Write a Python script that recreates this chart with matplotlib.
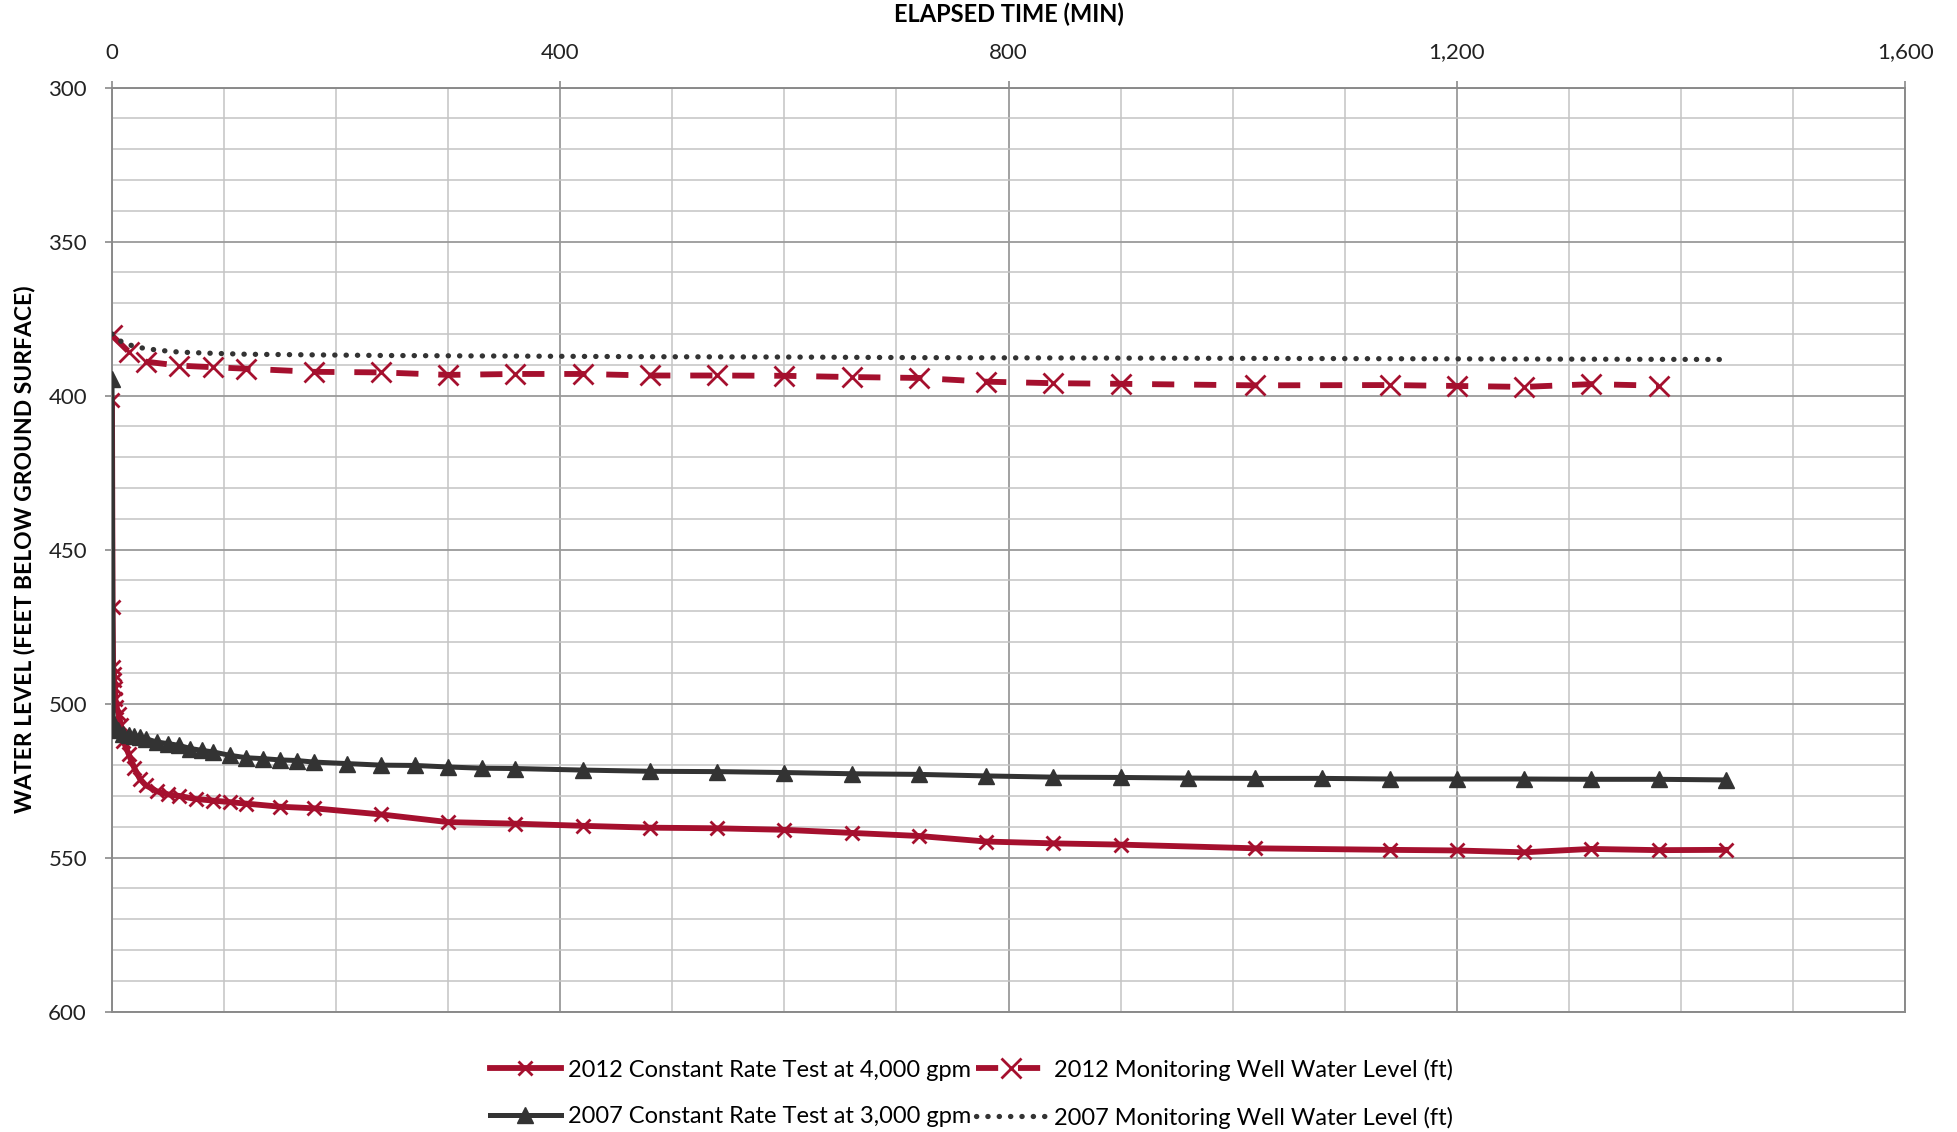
import matplotlib
matplotlib.use('Agg')
import matplotlib.pyplot as plt
from matplotlib.ticker import MultipleLocator, StrMethodFormatter

plt.rcParams['font.family'] = ['Lato', 'DejaVu Sans']

# 2012 constant rate test at 4,000 gpm
t_2012_test = [0, 0.5, 1, 1.5, 2, 2.5, 3, 4, 6, 8, 10, 15, 20, 25, 30, 40, 50, 60, 75, 90,
               105, 120, 150, 180, 240, 300, 360, 420, 480, 540, 600, 660, 720, 780, 840,
               900, 1020, 1140, 1200, 1260, 1320, 1380, 1440]
wl_2012_test = [401.5, 468.5, 488, 490.5, 492.5, 495, 498.5, 501, 503.5, 507, 512, 516.5, 521,
                524.5, 526.5, 528.5, 529.5, 530, 531, 531.5, 532, 532.5, 533.5, 534, 536, 538.5,
                539, 539.7, 540.3, 540.5, 541, 542, 543, 544.8, 545.4, 545.8, 547, 547.5, 547.7,
                548.3, 547.2, 547.6, 547.5]

# 2012 monitoring well water level
t_2012_mw = [0, 15, 30, 60, 90, 120, 180, 240, 300, 360, 420, 480, 540, 600, 660, 720, 780,
             840, 900, 1020, 1140, 1200, 1260, 1320, 1380]
wl_2012_mw = [380.5, 385.8, 389, 390.3, 390.8, 391.3, 392.3, 392.5, 393.3, 393, 393, 393.5,
              393.5, 393.6, 394, 394.3, 395.5, 396, 396.2, 396.7, 396.6, 396.9, 397.2, 396.3,
              396.8]

# 2007 constant rate test at 3,000 gpm
t_2007_test = [0, 1, 2, 5, 10, 15, 20, 25, 30, 40, 50, 60, 70, 80, 90, 105, 120, 135, 150,
               165, 180, 210, 240, 270, 300, 330, 360, 420, 480, 540, 600, 660, 720, 780, 840,
               900, 960, 1020, 1080, 1140, 1200, 1260, 1320, 1380, 1440]
wl_2007_test = [394.5, 506, 507.5, 508.7, 509.8, 510.3, 510.5, 510.8, 511.4, 512.5, 513, 513.6,
                514.6, 515.2, 515.7, 516.8, 517.6, 517.9, 518.3, 518.5, 519, 519.5, 520, 520.1,
                520.6, 521, 521.1, 521.6, 522, 522.1, 522.4, 522.8, 523, 523.5, 523.9, 524,
                524.2, 524.3, 524.3, 524.5, 524.5, 524.5, 524.6, 524.6, 524.8]

# 2007 monitoring well water level
t_2007_mw = [0, 10, 20, 30, 40, 50, 60, 90, 120, 180, 240, 300, 360, 480, 600, 720, 840, 960,
             1080, 1200, 1320, 1440]
wl_2007_mw = [380, 383, 384, 384.8, 385.2, 385.6, 385.9, 386.3, 386.6, 386.8, 387, 387.1,
              387.2, 387.4, 387.5, 387.7, 387.8, 387.9, 388, 388.1, 388.2, 388.3]

red = '#A5102E'
dark = '#333333'

fig = plt.figure(figsize=(19.58, 11.32), dpi=100)
ax = fig.add_axes([0.0572, 0.1064, 0.9158, 0.8163])

l1, = ax.plot(t_2012_test, wl_2012_test, color=red, lw=4.2, marker='x', ms=10, mew=2,
              label='2012 Constant Rate Test at 4,000 gpm', zorder=3)
l2, = ax.plot(t_2012_mw, wl_2012_mw, color=red, lw=4.2, ls=(0, (3.8, 3.4)), marker='x',
              ms=15, mew=2, label='2012 Monitoring Well Water Level (ft)', zorder=3)
l3, = ax.plot(t_2007_test, wl_2007_test, color=dark, lw=3.6, marker='^', ms=11,
              label='2007 Constant Rate Test at 3,000 gpm', zorder=4)
l4, = ax.plot(t_2007_mw, wl_2007_mw, color=dark, lw=3.8, ls=(0, (0.05, 2.1)),
              dash_capstyle='round', label='2007 Monitoring Well Water Level (ft)', zorder=4)

ax.set_xlim(0, 1600)
ax.set_ylim(600, 300)
ax.xaxis.set_major_locator(MultipleLocator(400))
ax.xaxis.set_minor_locator(MultipleLocator(100))
ax.yaxis.set_major_locator(MultipleLocator(50))
ax.yaxis.set_minor_locator(MultipleLocator(10))
ax.xaxis.set_major_formatter(StrMethodFormatter('{x:,.0f}'))

ax.grid(which='major', color='#9a9a9a', lw=1.3, zorder=0)
ax.grid(which='minor', color='#c4c4c4', lw=1.1, zorder=0)
ax.set_axisbelow(True)
for s in ax.spines.values():
    s.set_color('#8a8a8a')
    s.set_linewidth(1.4)

ax.xaxis.tick_top()
ax.xaxis.set_label_position('top')
ax.tick_params(which='major', length=5, width=1.2, color='#8a8a8a', labelsize=16,
               labelcolor='#222222', pad=13)
ax.tick_params(which='minor', length=0)

ax.set_xlabel('ELAPSED TIME (MIN)', fontsize=17, fontweight='bold', labelpad=15)
ax.set_ylabel('WATER LEVEL (FEET BELOW GROUND SURFACE)', fontsize=16.5, fontweight='bold',
              labelpad=9)

fig.legend([l1, l3, l2, l4], [l1.get_label(), l3.get_label(), l2.get_label(), l4.get_label()],
           loc='center', bbox_to_anchor=(0.496, 0.034), ncol=2, frameon=False, fontsize=17,
           handlelength=3.0, handletextpad=0.3, columnspacing=0.2, labelspacing=1.1)

fig.savefig('out.png', dpi=100)
